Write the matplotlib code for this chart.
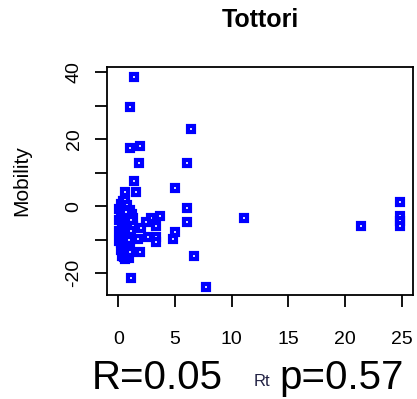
import matplotlib.pyplot as plt

plt.rcParams['font.family'] = ['Liberation Sans', 'DejaVu Sans']

# Rt values and mobility change for Tottori
rt = [1.4, 1.0, 6.4, 1.0, 1.9, 1.8, 6.1, 1.4, 5.0, 0.6, 1.6, 6.1, 3.7, 6.1,
      5.0, 4.8, 6.7, 1.1, 7.7, 2.9, 2.4, 3.3, 2.0, 1.7, 2.6, 3.3, 3.3, 1.9,
      0.5, 24.9, 24.9, 24.9, 24.9, 21.4, 11.1,
      # dense cluster near Rt ~ 0-1.5
      0.1, 0.2, 0.3, 0.4, 0.5, 0.6, 0.7, 0.8, 0.9, 1.0, 1.1, 1.2, 1.3,
      0.1, 0.2, 0.3, 0.4, 0.5, 0.6, 0.7, 0.8, 0.9, 1.0, 1.1, 1.2, 1.3,
      0.1, 0.2, 0.3, 0.4, 0.5, 0.6, 0.7, 0.8, 0.9, 1.0, 1.1,
      0.1, 0.2, 0.3, 0.4, 0.5, 0.6, 0.7, 0.8, 0.9, 1.0,
      0.2, 0.3, 0.4, 0.5, 0.6, 0.7, 0.8, 0.9,
      0.3, 0.5, 0.7, 0.9, 0.4, 0.6, 0.8, 1.0, 0.5, 0.7]
mobility = [38.5, 29.6, 23.0, 17.2, 17.8, 13.0, 13.0, 7.4, 5.3, 4.1, 4.1, -0.6, -3.0, -4.8,
            -7.7, -9.8, -14.8, -21.4, -24.0, -3.6, -4.8, -5.8, -6.5, -9.8, -9.1, -9.1, -10.7, -13.7,
            -15.0, 1.2, -3.0, -4.4, -6.0, -6.0, -3.6,
            -1.0, 0.5, -2.0, 1.5, -0.5, 1.8, -1.5, 0.2, -2.5, -1.2, -3.0, -2.2, -3.5,
            -4.0, -3.2, -5.0, -4.5, -6.0, -5.5, -4.8, -6.5, -5.2, -7.0, -4.2, -6.2, -5.8,
            -7.5, -8.0, -7.2, -8.8, -7.8, -9.0, -8.5, -9.5, -8.2, -10.0, -7.4,
            -10.5, -11.0, -9.8, -11.5, -10.8, -12.0, -11.2, -12.5, -10.2, -11.8,
            -13.0, -12.2, -13.5, -12.8, -14.0, -13.2, -14.5, -13.8,
            -14.8, -15.2, -14.2, -15.5, -15.0, -15.8, -14.6, -13.6, -2.8, -1.8]
x_ticks = [0, 5, 10, 15, 20, 25]
y_ticks = [-20, 0, 20, 40]
y_minor = [-10, 10, 30]

fig = plt.figure(figsize=(4.17, 3.99), dpi=100)
ax = fig.add_axes([0.2566, 0.2607, 0.7334, 0.5713])

ax.plot(rt, mobility, linestyle='none', marker='s', markersize=4.3,
        markerfacecolor='white', markeredgecolor='#0000ff', markeredgewidth=3.0)

ax.set_xlim(-1.0, 26.0)
ax.set_ylim(-26.5, 41.5)
ax.set_xticks(x_ticks)
ax.set_xticklabels([str(t) for t in x_ticks])
ax.set_yticks(y_ticks + y_minor)
ax.set_yticklabels([str(t) for t in y_ticks] + ['' for t in y_minor], rotation=90, va='center')
ax.tick_params(length=8.6, width=1.3, labelsize=14, pad=17)
ax.tick_params(axis='y', pad=9)
for s in ax.spines.values():
    s.set_linewidth(1.3)

ax.set_title('Tottori', fontsize=18, fontweight='bold', pad=29)
ax.set_ylabel('Mobility', fontsize=15, labelpad=25)

fig.text(0.628, 0.045, 'Rt', fontsize=12, ha='center', va='center', color='#222244')
fig.text(0.377, 0.024, 'R=0.05', fontsize=29, ha='center', va='baseline')
fig.text(0.819, 0.024, 'p=0.57', fontsize=29, ha='center', va='baseline')

fig.savefig('out.png', dpi=100)
